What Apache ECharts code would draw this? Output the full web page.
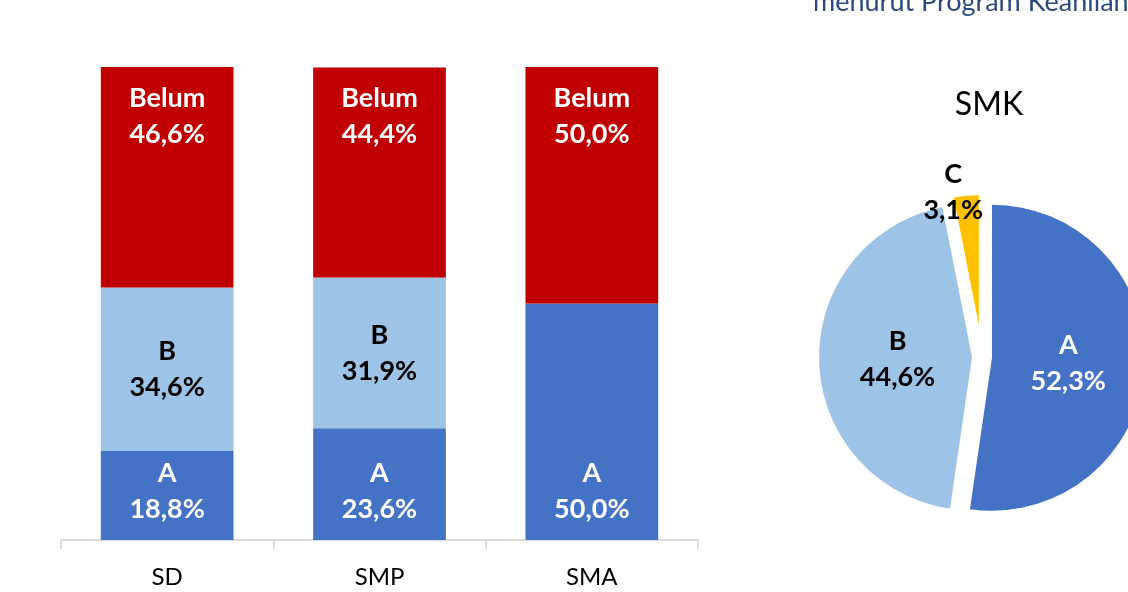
<!DOCTYPE html>
<html>
<head>
<meta charset="utf-8">
<script src="https://cdn.jsdelivr.net/npm/echarts@6/dist/echarts.min.js"></script>
<style>
  html, body { margin: 0; padding: 0; background: #fff; }
  #chart { width: 1128px; height: 592px; }
</style>
</head>
<body>
<div id="chart"></div>
<script>
  // data
  const categories = ['SD', 'SMP', 'SMA'];
  const valA = [18.8, 23.6, 50.0];
  const valB = [34.6, 31.9, 0];
  const valBelum = [46.6, 44.4, 50.0];

  const pieNames = ['A', 'B', 'C'];
  const pieValues = [52.3, 44.6, 3.1];

  const FONT = 'Lato';
  const pct = v => v.toFixed(1).replace('.', ',') + '%';

  const barLabel = (color, position) => ({
    show: true,
    position: position,
    distance: 13,
    color: color,
    fontFamily: FONT,
    fontWeight: 'bold',
    fontSize: 27,
    lineHeight: 36,
    formatter: p => p.value ? p.seriesName + '\n' + pct(p.value) : ''
  });

  const myChart = echarts.init(document.getElementById('chart'));
  myChart.setOption({
    animation: false,
    title: {
      text: 'SMK',
      left: 984,
      top: 84,
      textAlign: 'center',
      textStyle: { fontFamily: FONT, fontWeight: 'normal', fontSize: 32, color: '#000' }
    },
    graphic: [{
      type: 'text',
      x: 813,
      y: 2,
      style: {
        text: 'menurut Program Keahlian',
        fill: '#2B4A7F',
        font: '27px ' + FONT,
        verticalAlign: 'middle'
      }
    }],
    grid: { left: 61, right: 430, top: 67, bottom: 52 },
    xAxis: {
      type: 'category',
      data: categories,
      axisLine: { lineStyle: { color: '#D0D0D0', width: 1.5 } },
      axisTick: { show: true, length: 9, lineStyle: { color: '#D0D0D0', width: 1.5 } },
      axisLabel: { color: '#000', fontFamily: FONT, fontSize: 24, margin: 25 }
    },
    yAxis: { type: 'value', min: 0, max: 100, show: false, splitLine: { show: false } },
    series: [
      {
        name: 'A', type: 'bar', stack: 'all', data: valA, barCategoryGap: '37.5%',
        itemStyle: { color: '#4472C4' }, label: barLabel('#fff', 'insideBottom'), silent: true
      },
      {
        name: 'B', type: 'bar', stack: 'all', data: valB,
        itemStyle: { color: '#9DC3E6' }, label: barLabel('#000', 'inside'), silent: true
      },
      {
        name: 'Belum', type: 'bar', stack: 'all', data: valBelum,
        itemStyle: { color: '#C00000' }, label: barLabel('#fff', 'insideTop'), silent: true
      },
      {
        // A and B slices
        type: 'pie',
        center: [982, 357],
        radius: 153,
        startAngle: 90,
        silent: true,
        selectedMode: 'multiple',
        selectedOffset: 10,
        labelLine: { show: false },
        labelLayout: p => ({ dx: p.dataIndex === 0 ? -3 : 5 }),
        data: pieNames.map((n, i) => ({
          name: n,
          value: pieValues[i],
          selected: n !== 'C',
          itemStyle: { color: ['#4472C4', '#9DC3E6', 'rgba(0,0,0,0)'][i] },
          label: {
            show: n !== 'C',
            position: 'inside',
            color: n === 'A' ? '#fff' : '#000',
            fontFamily: FONT, fontWeight: 'bold', fontSize: 27, lineHeight: 36,
            formatter: p => p.name + '\n' + pct(p.value)
          }
        }))
      },
      {
        // C slice, pulled out further
        type: 'pie',
        center: [982, 357],
        radius: 130,
        startAngle: 90,
        silent: true,
        selectedMode: 'multiple',
        selectedOffset: 32,
        labelLine: { show: false },
        labelLayout: { dx: -19, dy: -65 },
        data: pieNames.map((n, i) => ({
          name: n,
          value: pieValues[i],
          selected: n === 'C',
          itemStyle: { color: n === 'C' ? '#FFC000' : 'rgba(0,0,0,0)' },
          label: {
            show: n === 'C',
            position: 'inside',
            color: '#000',
            fontFamily: FONT, fontWeight: 'bold', fontSize: 27, lineHeight: 36,
            formatter: p => p.name + '\n' + pct(p.value)
          }
        }))
      }
    ]
  });
</script>
</body>
</html>
